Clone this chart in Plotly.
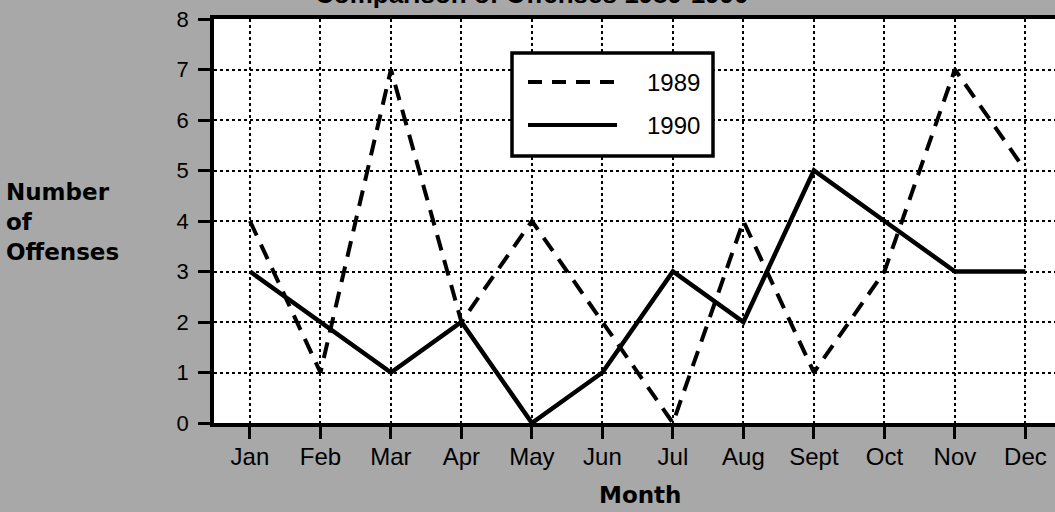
import plotly.graph_objects as go

months = ["Jan", "Feb", "Mar", "Apr", "May", "Jun", "Jul", "Aug", "Sept", "Oct", "Nov", "Dec"]
offenses_1989 = [4, 1, 7, 2, 4, 2, 0, 4, 1, 3, 7, 5]
offenses_1990 = [3, 2, 1, 2, 0, 1, 3, 2, 5, 4, 3, 3]
y_ticks = [0, 1, 2, 3, 4, 5, 6, 7, 8]

FONT = "Liberation Sans, Arial, Helvetica, sans-serif"
BOLD = "DejaVu Sans, Liberation Sans, Arial, sans-serif"
xpos = list(range(len(months)))

fig = go.Figure()
fig.add_trace(go.Scatter(x=xpos, y=offenses_1989, mode="lines", name="1989",
                         line=dict(color="black", width=4, dash="16px,10px"),
                         cliponaxis=False))
fig.add_trace(go.Scatter(x=xpos, y=offenses_1990, mode="lines", name="1990",
                         line=dict(color="black", width=4.5), cliponaxis=False))

W, H = 1055, 512
L, R, T, B = 214, 0, 19, 89
pw, ph = W - L - R, H - T - B

def px(x):
    return (x - L) / pw

def py(y):
    return (H - B - y) / ph

fig.update_layout(
    width=W, height=H,
    margin=dict(l=L, r=R, t=T, b=B),
    paper_bgcolor="#a8a8a8",
    plot_bgcolor="white",
    showlegend=False,
    font=dict(family=FONT, color="black"),
    xaxis=dict(
        range=[-0.51, 11.42], tickmode="array", tickvals=xpos, ticktext=months,
        showline=True, linecolor="black", linewidth=3.5, mirror=True,
        ticks="outside", ticklen=12, tickwidth=3, tickcolor="black",
        showgrid=True, gridcolor="black", gridwidth=1.5, griddash="dot",
        zeroline=False, tickfont=dict(size=24, family=FONT),
        ticklabelstandoff=-3,
    ),
    yaxis=dict(
        range=[0, 8], tickmode="array", tickvals=y_ticks,
        ticktext=[str(v) for v in y_ticks],
        showline=True, linecolor="black", linewidth=3.5,
        ticks="outside", ticklen=12, tickwidth=3, tickcolor="black",
        showgrid=True, gridcolor="black", gridwidth=1.5, griddash="dot",
        zeroline=False, tickfont=dict(size=22, family=FONT),
        ticklabelstandoff=5,
    ),
)

# Custom legend box
fig.add_shape(type="rect", xref="paper", yref="paper",
              x0=px(512), x1=px(713), y0=py(156), y1=py(53),
              line=dict(color="black", width=3.5), fillcolor="white", layer="above")
fig.add_shape(type="line", xref="paper", yref="paper",
              x0=px(528), x1=px(617), y0=py(82), y1=py(82),
              line=dict(color="black", width=4, dash="14px,10px"), layer="above")
fig.add_shape(type="line", xref="paper", yref="paper",
              x0=px(528), x1=px(617), y0=py(125), y1=py(125),
              line=dict(color="black", width=4), layer="above")
fig.add_annotation(x=px(702), y=py(82), xref="paper", yref="paper", text="1989",
                   showarrow=False, xanchor="right", yanchor="middle",
                   font=dict(size=24, family=FONT))
fig.add_annotation(x=px(702), y=py(125), xref="paper", yref="paper", text="1990",
                   showarrow=False, xanchor="right", yanchor="middle",
                   font=dict(size=24, family=FONT))

# Axis titles
fig.add_annotation(x=px(4), y=py(222), xref="paper", yref="paper",
                   text="<b>Number<br>of<br>Offenses</b>", showarrow=False,
                   xanchor="left", yanchor="middle", align="left",
                   font=dict(size=23, family=BOLD))
fig.add_annotation(x=px(640), y=py(495), xref="paper", yref="paper",
                   text="<b>Month</b>", showarrow=False,
                   xanchor="center", yanchor="middle",
                   font=dict(size=23, family=BOLD))

# Title (mostly cut off at top in the reference)
fig.add_annotation(x=px(532), y=py(11), xref="paper", yref="paper",
                   text="<b>Comparison of Offenses 1989-1990</b>", showarrow=False,
                   xanchor="center", yanchor="bottom",
                   font=dict(size=26, family=FONT))

fig.write_html("out.html", config={"displayModeBar": False},
               post_script="document.body.style.margin='0';document.body.style.overflow='hidden';")
